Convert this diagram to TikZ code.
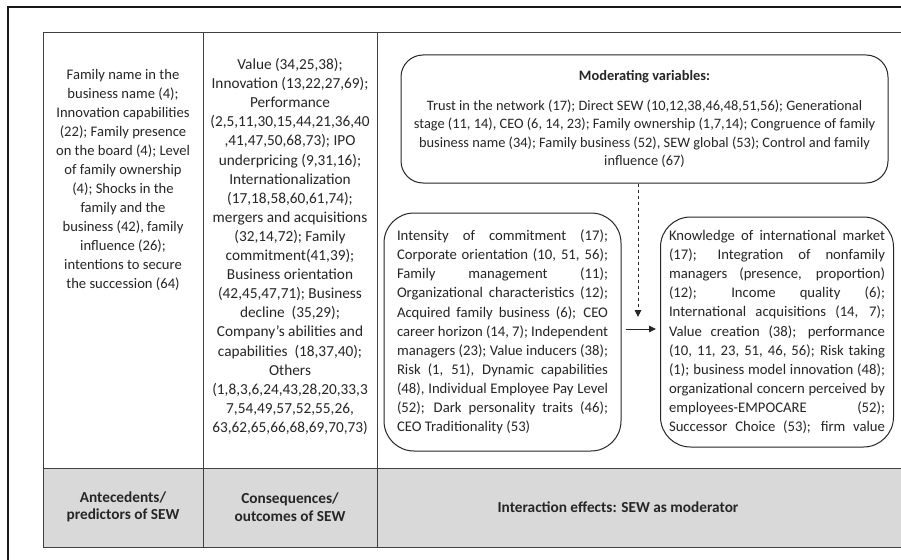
\documentclass[tikz,border=0pt]{standalone}
\usepackage{fontspec}
\setmainfont{Carlito}
\usetikzlibrary{arrows.meta}
\tolerance=10000
\hbadness=10000
\begin{document}
\begin{tikzpicture}[x=1pt,y=-1pt,>={Triangle[length=7pt,width=6.5pt]}]
        \tikzstyle{cell}=[align=center,text=black!85,font=\fontsize{15.3}{19.1}\selectfont]
        \tikzstyle{head}=[align=center,text=black!85,font=\fontsize{15.3}{17.5}\selectfont\bfseries]
        \tikzstyle{variables}=[draw=black!85,line width=1pt,rounded corners=30pt,text=black!85,align=justify,
                               font=\fontsize{14.7}{19.1}\selectfont]
        \tikzstyle{edge}=[draw,line width=1pt,black!85,->]
        \useasboundingbox (0,0) rectangle (901,559);
        \clip (0,0) rectangle (901,559);
        \fill[white] (0,0) rectangle (901,559);
        % frame and table
        \draw[line width=1.3pt,black!90] (8,7) rectangle (960,620);
        \fill[black!15] (43,468) rectangle (940,547);
        \draw[line width=1pt,black!75] (43,33) rectangle (940,547);
        \draw[line width=1pt,black!75] (43,468) -- (940,468);
        \draw[line width=1pt,black!75] (203,33) -- (203,547);
        \draw[line width=1pt,black!75] (377,33) -- (377,547);
        % columns
        \node [cell,font=\fontsize{14.6}{19}\selectfont] (ante) at (123,180) {Family name in the\\business name (4);\\Innovation capabilities\\(22); Family presence\\on the board (4); Level\\of family ownership\\(4); Shocks in the\\family and the\\business (42), family\\influence (26);\\intentions to secure\\the succession (64)};
        \node [cell] (cons) at (290,246.5) {Value (34,25,38);\\Innovation (13,22,27,69);\\Performance\\(2,5,11,30,15,44,21,36,40\\,41,47,50,68,73); IPO\\underpricing (9,31,16);\\Internationalization\\(17,18,58,60,61,74);\\mergers and acquisitions\\(32,14,72); Family\\commitment(41,39);\\Business orientation\\(42,45,47,71); Business\\decline~~(35,29);\\Company’s abilities and\\capabilities~~(18,37,40);\\Others\\(1,8,3,6,24,43,28,20,33,3\\7,54,49,57,52,55,26,\\63,62,65,66,68,69,70,73)};
        % interaction effects
        \node [variables,align=center,rounded corners=22pt,font=\fontsize{14.4}{18.5}\selectfont,
               minimum width=487pt,minimum height=128pt] (mod) at (644.5,119)
              {\textbf{Moderating variables:}\\[11pt]Trust in the network (17); Direct SEW (10,12,38,46,48,51,56); Generational\\stage (11, 14), CEO (6, 14, 23); Family ownership (1,7,14); Congruence of family\\business name (34); Family business (52), SEW global (53); Control and family\\influence (67)};
        \node [variables,text width=211pt,inner xsep=13pt,minimum height=238pt] (lbox) at (502.5,332)
              {Intensity of commitment (17);\linebreak
               Corporate orientation (10, 51, 56);\linebreak
               Family management (11);\linebreak
               Organizational characteristics (12);\linebreak
               Acquired family business (6); CEO\linebreak
               career horizon (14, 7); Independent\linebreak
               managers (23); Value inducers (38);\linebreak
               Risk (1, 51), Dynamic capabilities\linebreak
               (48), Individual Employee Pay Level\linebreak
               (52); Dark personality traits (46);\linebreak
               CEO Traditionality (53)};
        \node [variables,text width=216pt,inner xsep=8.5pt,minimum height=230pt] (rbox) at (777,332)
              {Knowledge of international market\linebreak
               (17); Integration of nonfamily\linebreak
               managers (presence, proportion)\linebreak
               (12); Income quality (6);\linebreak
               International acquisitions (14, 7);\linebreak
               Value creation (38); performance\linebreak
               (10, 11, 23, 51, 46, 56); Risk taking\linebreak
               (1); business model innovation (48);\linebreak
               organizational concern perceived by\linebreak
               employees-EMPOCARE (52);\linebreak
               Successor Choice (53); firm value\parfillskip=0pt\par};
        \coordinate (drop) at (638,317);
        \path[edge,dashed] (mod.south -| drop) -- (drop);
        \path[edge,shorten <=4pt,shorten >=4pt] ([yshift=3pt]lbox.east) -- ([yshift=3pt]lbox.east -| rbox.west);
        % bottom row
        \node [head] (antehead) at (123,507) {Antecedents/\\predictors of SEW};
        \node [head] (conshead) at (290,507) {Consequences/\\outcomes of SEW};
        \node [head] (modhead) at (618,507) {Interaction effects: SEW as moderator};
\end{tikzpicture}
\end{document}
